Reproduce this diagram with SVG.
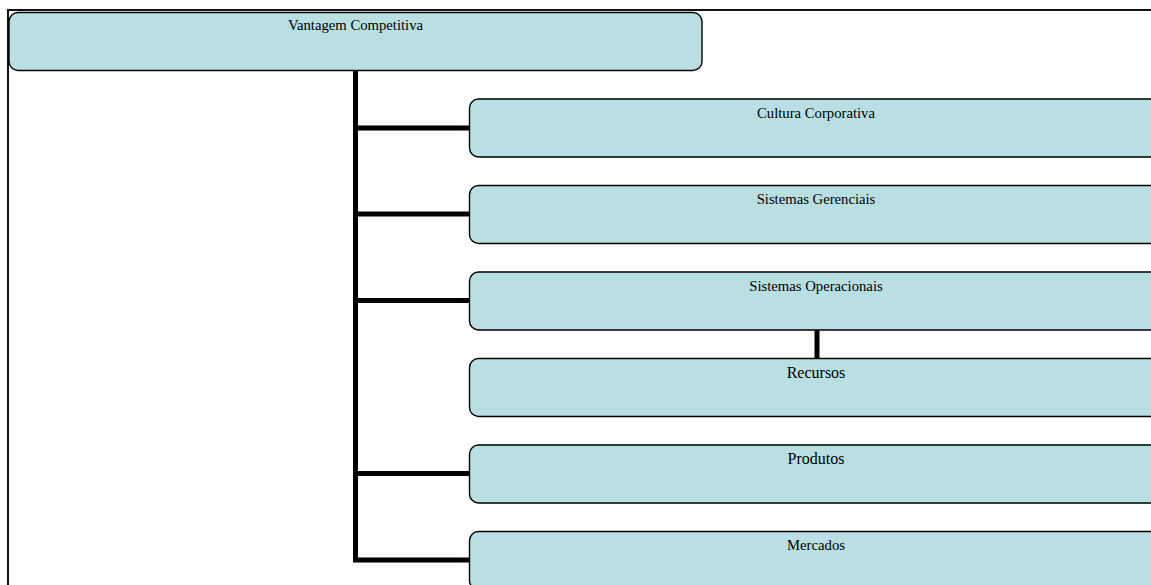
<svg xmlns="http://www.w3.org/2000/svg" width="1151" height="585" viewBox="0 0 1151 585">
<style>
.box{fill:#b9dfe2;stroke:#000;stroke-width:1.4}
text{font-family:'Liberation Serif','DejaVu Serif',serif;fill:#000;text-anchor:middle}
.s{font-size:14.7px}
.l{font-size:16px}
.c{stroke:#000;stroke-width:5;fill:none}
</style>
<rect width="1151" height="585" fill="#fff"/>
<path d="M8,586 V10 H1152" fill="none" stroke="#111" stroke-width="2"/>
<g id="connectors">
<path class="c" d="M355.5,70.5 V560 H470"/>
<path class="c" d="M355.5,128 H470"/>
<path class="c" d="M355.5,214 H470"/>
<path class="c" d="M355.5,300.5 H470"/>
<path class="c" d="M355.5,473.5 H470"/>
<path class="c" d="M817,329.5 V358.5"/>
</g>
<g id="vantagem">
<rect class="box" x="9" y="12.5" width="693" height="58" rx="9"/>
<text class="s" x="355.5" y="29.5" font-family="Liberation Serif, serif">Vantagem Competitiva</text>
</g>
<g id="cultura">
<rect class="box" x="469.5" y="99" width="693" height="58" rx="9"/>
<text class="s" x="816" y="118" font-family="Liberation Serif, serif">Cultura Corporativa</text>
</g>
<g id="gerenciais">
<rect class="box" x="469.5" y="185.5" width="693" height="58" rx="9"/>
<text class="s" x="816" y="204" font-family="Liberation Serif, serif">Sistemas Gerenciais</text>
</g>
<g id="operacionais">
<rect class="box" x="469.5" y="272" width="693" height="58" rx="9"/>
<text class="s" x="816" y="290.5" font-family="Liberation Serif, serif">Sistemas Operacionais</text>
</g>
<g id="recursos">
<rect class="box" x="469.5" y="358.5" width="693" height="58" rx="9"/>
<text class="l" x="816" y="377.5" font-family="Liberation Serif, serif">Recursos</text>
</g>
<g id="produtos">
<rect class="box" x="469.5" y="445" width="693" height="58" rx="9"/>
<text class="l" x="816" y="463.5" font-family="Liberation Serif, serif">Produtos</text>
</g>
<g id="mercados">
<rect class="box" x="469.5" y="531.5" width="693" height="58" rx="9"/>
<text class="s" x="816" y="550" font-family="Liberation Serif, serif">Mercados</text>
</g>
</svg>
